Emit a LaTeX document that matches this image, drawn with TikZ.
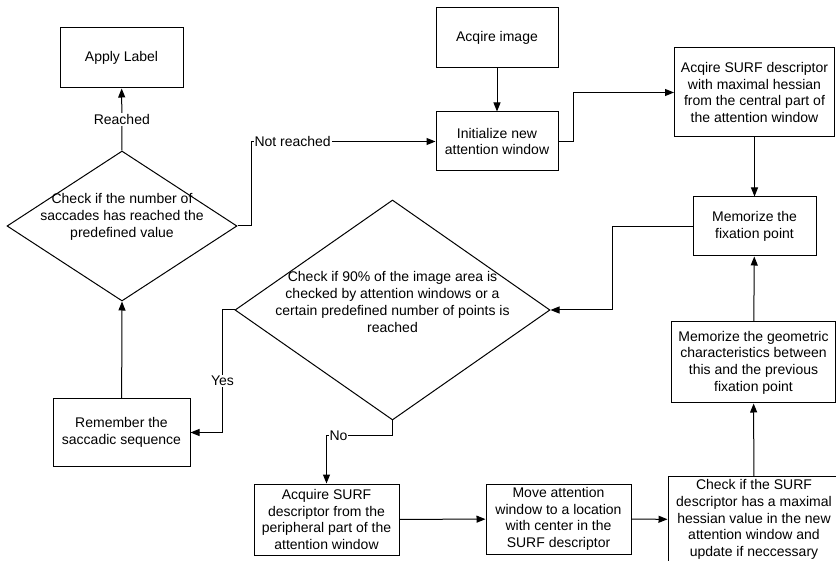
\documentclass[tikz,border=0pt]{standalone}
\usepackage{fontspec}
\setmainfont{Liberation Sans}
\usetikzlibrary{shapes.geometric,arrows.meta}

\begin{document}
\begin{tikzpicture}[x=1pt,y=-1pt,
		every node/.style = {font=\fontsize{14}{16.7}\selectfont, align=center},
		box/.style = {draw, rectangle, inner sep=0pt},
		decision/.style = {draw, diamond, inner sep=0pt},
		lbl/.style = {fill=white, inner sep=1pt},
		flow/.style = {-{Triangle[length=9pt,width=7pt]}},
		line width=1pt]
		\useasboundingbox (0,0) rectangle (836,561);

		% boxes
		\node[box, minimum width=123, minimum height=60] (apply) at (121.5,58) {Apply Label};
		\node[box, minimum width=122, minimum height=60] (acq) at (497,37.5) {Acqire image};
		\node[box, minimum width=122, minimum height=59] (init) at (497,141.5) {Initialize new\\attention window};
		\node[box, minimum width=160, minimum height=89] (surfc) at (754.5,92.5) {Acqire SURF descriptor\\with maximal hessian\\from the central part of\\the attention window};
		\node[box, minimum width=123, minimum height=59] (fix) at (754.5,226.5) {Memorize the\\fixation point};
		\node[box, minimum width=164, minimum height=81] (geo) at (753.5,362.5) {Memorize the geometric\\characteristics between\\this and the previous\\fixation point};
		\node[box, minimum width=172, minimum height=86] (chkb) at (754,519.5) {Check if the SURF\\descriptor has a maximal\\hessian value in the new\\attention window and\\update if neccessary};
		\node[box, minimum width=145, minimum height=70] (move) at (558.5,519) {Move attention\\window to a location\\with center in the\\SURF descriptor};
		\node[box, minimum width=145, minimum height=71] (peri) at (326.5,519.5) {Acquire SURF\\descriptor from the\\peripheral part of the\\attention window};
		\node[box, minimum width=137, minimum height=67] (rem) at (121.5,432.5) {Remember the\\saccadic sequence};

		% decisions
		\node[decision, minimum width=230, minimum height=150] (sac) at (122,226) {};
		\node at (122,217) {Check if the number of\\saccades has reached the\\predefined value};
		\node[decision, minimum width=315, minimum height=220] (area) at (392.5,310) {};
		\node at (392.5,302) {Check if 90\% of the image area is\\checked by attention windows or a\\certain predefined number of points is\\reached};

		% connectors
		\draw[flow] (acq) -- (init);
		\draw[flow] (init.east) -- ++(15,0) |- (surfc.west);
		\draw[flow] (surfc) -- (fix);
		\draw[flow] (fix.west) -- ++(-80,0) |- (area.east);
		\draw[flow] (area.west) -- ++(-12,0) coordinate (yes) -- (yes |- rem.east) node[lbl, pos=0.58] {Yes} -- (rem.east);
		\draw[flow] (rem) -- (sac.south);
		\draw[flow] (sac.north) -- (apply) node[lbl, midway] {Reached};
		\draw[flow] (sac.east) -- ++(14,0) |- (init.west) node[lbl, pos=0.5, anchor=west, xshift=1.5pt] {Not reached};
		\draw[flow] (area.south) -- ++(0,15) -| (peri.north) node[lbl, pos=0.5, anchor=west, xshift=1.5pt] {No};
		\draw[flow] (peri) -- (move);
		\draw[flow] (move) -- (chkb);
		\draw[flow] (chkb) -- (geo);
		\draw[flow] (geo) -- (fix);
	\end{tikzpicture}
\end{document}
